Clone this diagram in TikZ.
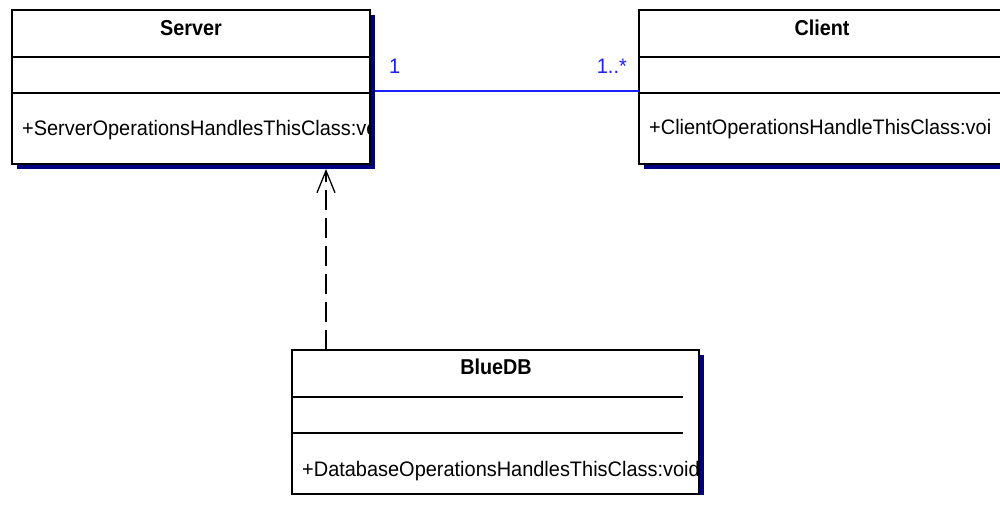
\documentclass[tikz,border=0pt]{standalone}
\usepackage{fontspec}
\setmainfont{Liberation Sans}
\newfontfamily\condfont[FakeStretch=0.95]{Liberation Sans}
\newfontfamily\condbold[FakeStretch=0.92]{Liberation Sans Bold}
\usetikzlibrary{arrows.meta}
\definecolor{shadownavy}{RGB}{0,0,128}
\definecolor{assocblue}{RGB}{30,30,255}
\begin{document}
\begin{tikzpicture}[x=1pt,y=-1pt,
  classbox/.style={draw=black, fill=white, line width=1.6pt, inner sep=0pt, outer sep=0pt, anchor=north west},
  shadowbox/.style={fill=shadownavy, draw=none, inner sep=0pt, outer sep=0pt, anchor=north west},
  sepline/.style={line width=1.3pt, draw=black},
  titletext/.style={font=\fontsize{21.5}{25}\condbold, inner sep=0pt, anchor=base},
  optext/.style={font=\fontsize{21}{25}\condfont, inner sep=0pt, anchor=base west},
  mult/.style={font=\fontsize{21}{25}\condfont, text=assocblue, inner sep=0pt},
  assoc/.style={draw=assocblue, line width=1.5pt},
  dep/.style={draw=black, line width=1.3pt, dash pattern=on 20pt off 8pt, -{Straight Barb[length=22pt,width=18pt,line width=1.3pt]}}
]
\clip (0,0) rectangle (1000,504);
\fill[white] (0,0) rectangle (1000,504);

% ---- Server ----
\node[shadowbox, minimum width=358pt, minimum height=154pt] (servershadow) at (17,15) {};
\node[classbox, minimum width=358pt, minimum height=154pt] (server) at (12,10) {};
\draw[sepline] ([yshift=-47pt]server.north west) -- ([yshift=-47pt]server.north east);
\draw[sepline] ([yshift=-83pt]server.north west) -- ([yshift=-83pt]server.north east);
\node[titletext] (servertitle) at (191,35) {Server};
\begin{scope}
  \clip (12,93) rectangle (370,164);
  \node[optext] (serverop) at (22,135.5) {+ServerOperationsHandlesThisClass:vo};
\end{scope}

% ---- Client ----
\node[shadowbox, minimum width=366pt, minimum height=154pt] (clientshadow) at (644,15) {};
\node[classbox, minimum width=366pt, minimum height=154pt] (client) at (639,10) {};
\draw[sepline] ([yshift=-47pt]client.north west) -- ([yshift=-47pt]client.north east);
\draw[sepline] ([yshift=-83pt]client.north west) -- ([yshift=-83pt]client.north east);
\node[titletext] (clienttitle) at (822,35) {Client};
\node[optext] (clientop) at (649,134) {+ClientOperationsHandleThisClass:voi};

% ---- BlueDB ----
\node[shadowbox, minimum width=5pt, minimum height=140pt] (dbshadow) at (699,355) {};
\node[classbox, minimum width=407pt, minimum height=144pt] (bluedb) at (292,350) {};
\draw[sepline] ([yshift=-47pt]bluedb.north west) -- ([xshift=-16pt,yshift=-47pt]bluedb.north east);
\draw[sepline] ([yshift=-83pt]bluedb.north west) -- ([xshift=-16pt,yshift=-83pt]bluedb.north east);
\node[titletext] (dbtitle) at (496,374) {BlueDB};
\begin{scope}
  \clip (292,433) rectangle (699,494);
  \node[optext] (dbop) at (302,476) {+DatabaseOperationsHandlesThisClass:void};
\end{scope}

% ---- association Server -- Client ----
\coordinate (assocy) at (0,91);
\draw[assoc] (servershadow.east |- assocy) -- (client.west |- assocy);
\node[mult, anchor=base west] (multserver) at (389,73) {1};
\node[mult, anchor=base east] (multclient) at (627,73) {1..*};

% ---- dependency BlueDB -> Server ----
\draw[dep] ([xshift=34pt]bluedb.north west) -- ([xshift=34pt]bluedb.north west |- servershadow.south);
\end{tikzpicture}
\end{document}
